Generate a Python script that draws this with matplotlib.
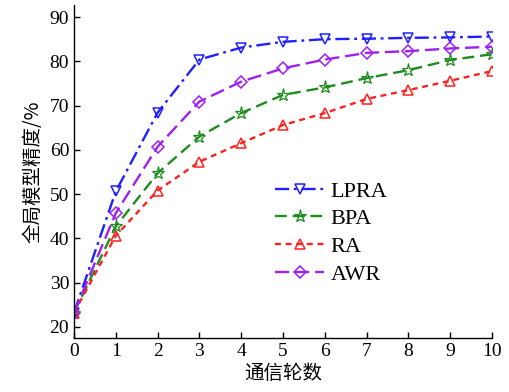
import numpy as np
import matplotlib.pyplot as plt

plt.rcParams['font.family'] = ['Liberation Serif', 'Noto Sans CJK SC']
plt.rcParams['mathtext.fontset'] = 'stix'

rounds = np.arange(0, 11)
lpra = [23.2, 50.6, 68.4, 80.4, 83.1, 84.4, 85.0, 85.1, 85.3, 85.4, 85.6]
bpa = [23.2, 42.7, 54.7, 63.0, 68.3, 72.4, 74.1, 76.2, 78.0, 80.3, 81.6]
ra = [23.2, 40.6, 50.8, 57.3, 61.5, 65.6, 68.3, 71.5, 73.5, 75.6, 77.8]
awr = [23.2, 45.7, 60.7, 70.9, 75.4, 78.4, 80.4, 81.9, 82.3, 82.9, 83.3]

fig = plt.figure(figsize=(5.09, 3.92), dpi=100)
ax = fig.add_axes([0.1454, 0.138, 0.8212, 0.849])

lw = 1.7
ms = 7.5
ax.plot(rounds, lpra, color='#1f1fff', ls=(0, (6, 2, 1.2, 2)), lw=lw, marker='v',
        ms=ms, mfc='none', mew=1.1, label='LPRA')
ax.plot(rounds, bpa, color='#1e8c1e', ls=(0, (5, 2.5)), lw=lw, marker='*',
        ms=ms + 2, mfc='none', mew=0.9, label='BPA')
ax.plot(rounds, ra, color='#ff2020', ls=(0, (2.5, 2)), lw=lw, marker='^',
        ms=ms, mfc='none', mew=1.1, label='RA')
ax.plot(rounds, awr, color='#a020f0', ls=(0, (6, 2.5)), lw=lw, marker='D',
        ms=ms - 1, mfc='none', mew=1.1, label='AWR')

ax.set_xlim(0, 10)
ax.set_ylim(17.5, 92.7)
ax.set_xticks(np.arange(0, 11, 1))
ax.set_yticks(np.arange(20, 91, 10))
ax.spines['top'].set_visible(False)
ax.spines['right'].set_visible(False)
ax.tick_params(direction='in', length=4, labelsize=14, width=1)
ax.spines['left'].set_linewidth(1)
ax.spines['bottom'].set_linewidth(1)

ax.set_xlabel('通信轮数', fontsize=14, family=['Noto Sans CJK SC'], labelpad=2)
ax.set_ylabel('全局模型精度/%', fontsize=14, family=['Noto Sans CJK SC'], labelpad=4)

ax.legend(loc='upper left', bbox_to_anchor=(0.455, 0.505), frameon=False,
          fontsize=16, handlelength=2.2, labelspacing=0.32, handletextpad=0.3,
          borderpad=0)

fig.savefig('out.png', dpi=100)
